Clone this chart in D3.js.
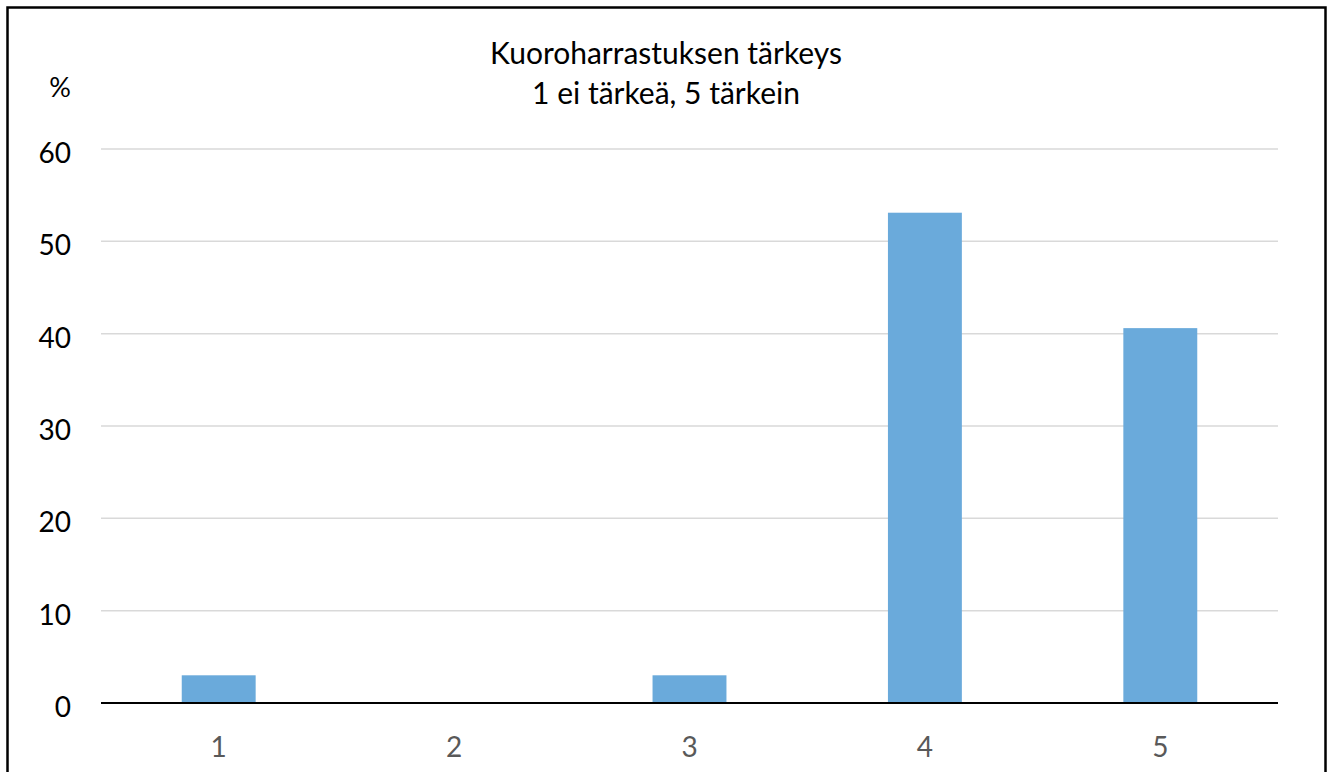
<!DOCTYPE html>
<html><head><meta charset="utf-8">
<script src="https://cdn.jsdelivr.net/npm/d3@7"></script>
<style>html,body{margin:0;padding:0;background:#fff;} svg{display:block;}</style>
</head><body>
<svg id="c" width="1332" height="772"></svg>
<script>
const categories = ["1","2","3","4","5"];
const values = [3.0, 0, 3.0, 53.1, 40.6];
const yTicks = [0,10,20,30,40,50,60];
const titleLines = ["Kuoroharrastuksen tärkeys","1 ei tärkeä, 5 tärkein"];
const yUnit = "%";

const svg = d3.select("#c");
const font = "Lato, 'Open Sans', sans-serif";
const W=1332,H=772;
svg.append("rect").attr("x",7.5).attr("y",7.5).attr("width",1318).attr("height",H+20)
  .attr("fill","#fff").attr("stroke","#000").attr("stroke-width",2.5);

const m={l:101,r:1278,t:149,b:703};
const x=d3.scaleBand().domain(categories).range([m.l,m.r]).paddingInner(0.686).paddingOuter(0.343);
const y=d3.scaleLinear().domain([0,60]).range([m.b,m.t]);

const g=svg.append("g");
g.selectAll("line.grid").data(yTicks.filter(d=>d>0)).join("line").attr("class","grid")
  .attr("x1",m.l).attr("x2",m.r).attr("y1",d=>y(d)).attr("y2",d=>y(d))
  .attr("stroke","#d9d9d9").attr("stroke-width",1.5);

g.selectAll("rect.bar").data(values).join("rect").attr("class","bar")
  .attr("x",(d,i)=>x(categories[i])).attr("width",x.bandwidth())
  .attr("y",d=>y(d)).attr("height",d=>y(0)-y(d)).attr("fill","#6aaadb");

g.append("line").attr("x1",m.l).attr("x2",m.r).attr("y1",y(0)).attr("y2",y(0))
  .attr("stroke","#000").attr("stroke-width",1.8);

g.selectAll("text.yt").data(yTicks).join("text").attr("class","yt")
  .attr("x",71).attr("y",d=>y(d)+14).attr("text-anchor","end")
  .attr("font-family",font).attr("font-size",28).attr("fill","#000").text(d=>d);

g.selectAll("text.xt").data(categories).join("text").attr("class","xt")
  .attr("x",d=>x(d)+x.bandwidth()/2).attr("y",757).attr("text-anchor","middle")
  .attr("font-family",font).attr("font-size",28).attr("fill","#595959").text(d=>d);

svg.append("text").attr("x",71).attr("y",97).attr("text-anchor","end")
  .attr("font-family",font).attr("font-size",27).attr("fill","#000").text(yUnit);

svg.selectAll("text.title").data(titleLines).join("text").attr("class","title")
  .attr("x",666).attr("y",(d,i)=>64+i*40).attr("text-anchor","middle")
  .attr("font-family",font).attr("font-size",30).attr("fill","#000").text(d=>d);
</script>
</body></html>
